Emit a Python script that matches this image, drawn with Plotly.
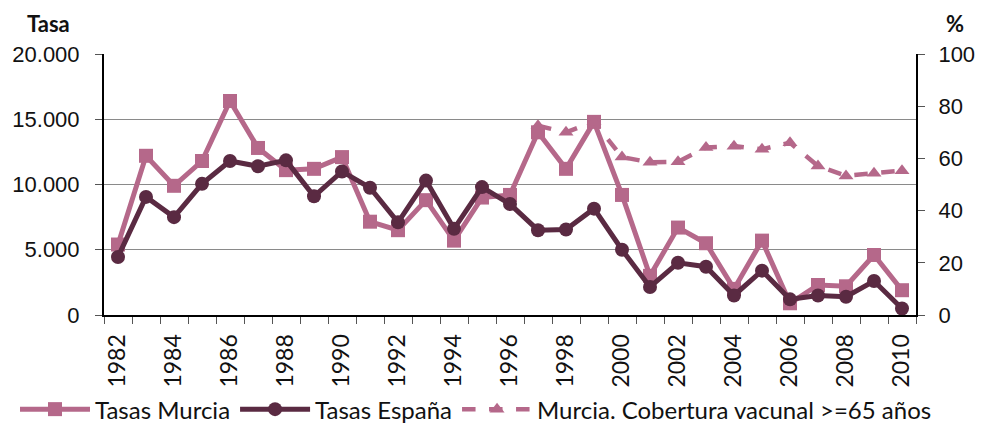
import plotly.graph_objects as go

years = list(range(1982, 2011))

tasas_murcia = [5400, 12200, 9900, 11800, 16400, 12800, 11100, 11200, 12100, 7150,
                6500, 8800, 5700, 9000, 9200, 14000, 11200, 14800, 9200, 3000,
                6700, 5500, 2000, 5700, 900, 2300, 2200, 4600, 1900]

tasas_espana = [4450, 9050, 7500, 10050, 11800, 11400, 11850, 9100, 11000, 9750,
                7100, 10300, 6600, 9800, 8500, 6500, 6550, 8150, 5000, 2150,
                4000, 3700, 1500, 3400, 1200, 1500, 1400, 2600, 500]

cob_years = list(range(1997, 2011))
cobertura = [72.5, 70, 74, 60.5, 58.5, 58.7, 64.2, 64.7, 63.5, 66, 57.1, 53.3, 54.3, 55.3]

left_ticks = [0, 5000, 10000, 15000, 20000]
right_ticks = [0, 20, 40, 60, 80, 100]
x_label_years = list(range(1982, 2011, 2))

PINK = "#B5688A"
DARK = "#5A2A42"

fig = go.Figure()
fig.add_trace(go.Scatter(
    x=years, y=tasas_murcia, name="Tasas Murcia", mode="lines+markers",
    line=dict(color=PINK, width=5),
    marker=dict(symbol="square", size=14, color=PINK),
))
fig.add_trace(go.Scatter(
    x=years, y=tasas_espana, name="Tasas España", mode="lines+markers",
    line=dict(color=DARK, width=5),
    marker=dict(symbol="circle", size=14, color=DARK),
))
fig.add_trace(go.Scatter(
    x=cob_years, y=cobertura, name="Murcia. Cobertura vacunal >=65 años",
    mode="lines+markers", yaxis="y2",
    line=dict(color=PINK, width=4.5, dash="dash"),
    marker=dict(symbol="triangle-up", size=13, color=PINK),
))

axis_font = dict(family="Liberation Sans, Arial, sans-serif", size=22, color="#111111")
W = 984

fig.update_layout(
    width=W, height=425,
    margin=dict(l=0, r=0, t=54, b=110, autoexpand=False),
    plot_bgcolor="white", paper_bgcolor="white",
    separators=",.",
    showlegend=True,
    legend=dict(
        orientation="h", x=15 / W, xanchor="left", y=-0.276, yanchor="top",
        font=dict(family="Lato, sans-serif", size=24, color="#111111"),
        bgcolor="rgba(0,0,0,0)", traceorder="normal",
        itemwidth=70,
    ),
    xaxis=dict(
        domain=[104 / W, 916 / W],
        range=[1981.5, 2010.5],
        tickmode="array", tickvals=x_label_years,
        ticktext=[str(y) for y in x_label_years],
        tickangle=-90, ticks="", ticklen=0, ticklabelstandoff=8,
        tickfont=dict(family="Lato, sans-serif", size=23, color="#111111"),
        showgrid=False, zeroline=False,
        showline=True, linecolor="black", linewidth=2,
        minor=dict(tickmode="array", tickvals=[y - 0.5 for y in years] + [2010.5],
                   ticks="outside", ticklen=7, tickcolor="#555555", tickwidth=1,
                   showgrid=False),
    ),
    yaxis=dict(
        range=[0, 20000], tickmode="array", tickvals=left_ticks,
        tickformat=",d", tickfont=axis_font, ticklabelstandoff=11,
        ticks="outside", ticklen=7, tickcolor="#555555",
        showgrid=True, gridcolor="#8a8a8a", gridwidth=1.2,
        zeroline=False, showline=True, linecolor="black", linewidth=2,
    ),
    yaxis2=dict(
        range=[0, 100], tickmode="array", tickvals=right_ticks,
        tickfont=axis_font, overlaying="y", side="right", ticklabelstandoff=9,
        ticks="outside", ticklen=7, tickcolor="#555555",
        showgrid=False, zeroline=False, showline=True, linecolor="black", linewidth=2,
    ),
    annotations=[
        dict(text="<b>Tasa</b>", xref="paper", yref="paper", x=48 / W, y=1.115,
             xanchor="center", yanchor="middle", showarrow=False,
             font=dict(family="Lato, sans-serif", size=22, color="#111111")),
        dict(text="<b>%</b>", xref="paper", yref="paper", x=955 / W, y=1.115,
             xanchor="center", yanchor="middle", showarrow=False,
             font=dict(family="Lato, sans-serif", size=22, color="#111111")),
    ],
)

fig.write_html("out.html", config={"displayModeBar": False},
               post_script="document.body.style.margin='0';document.body.style.overflow='hidden';")
